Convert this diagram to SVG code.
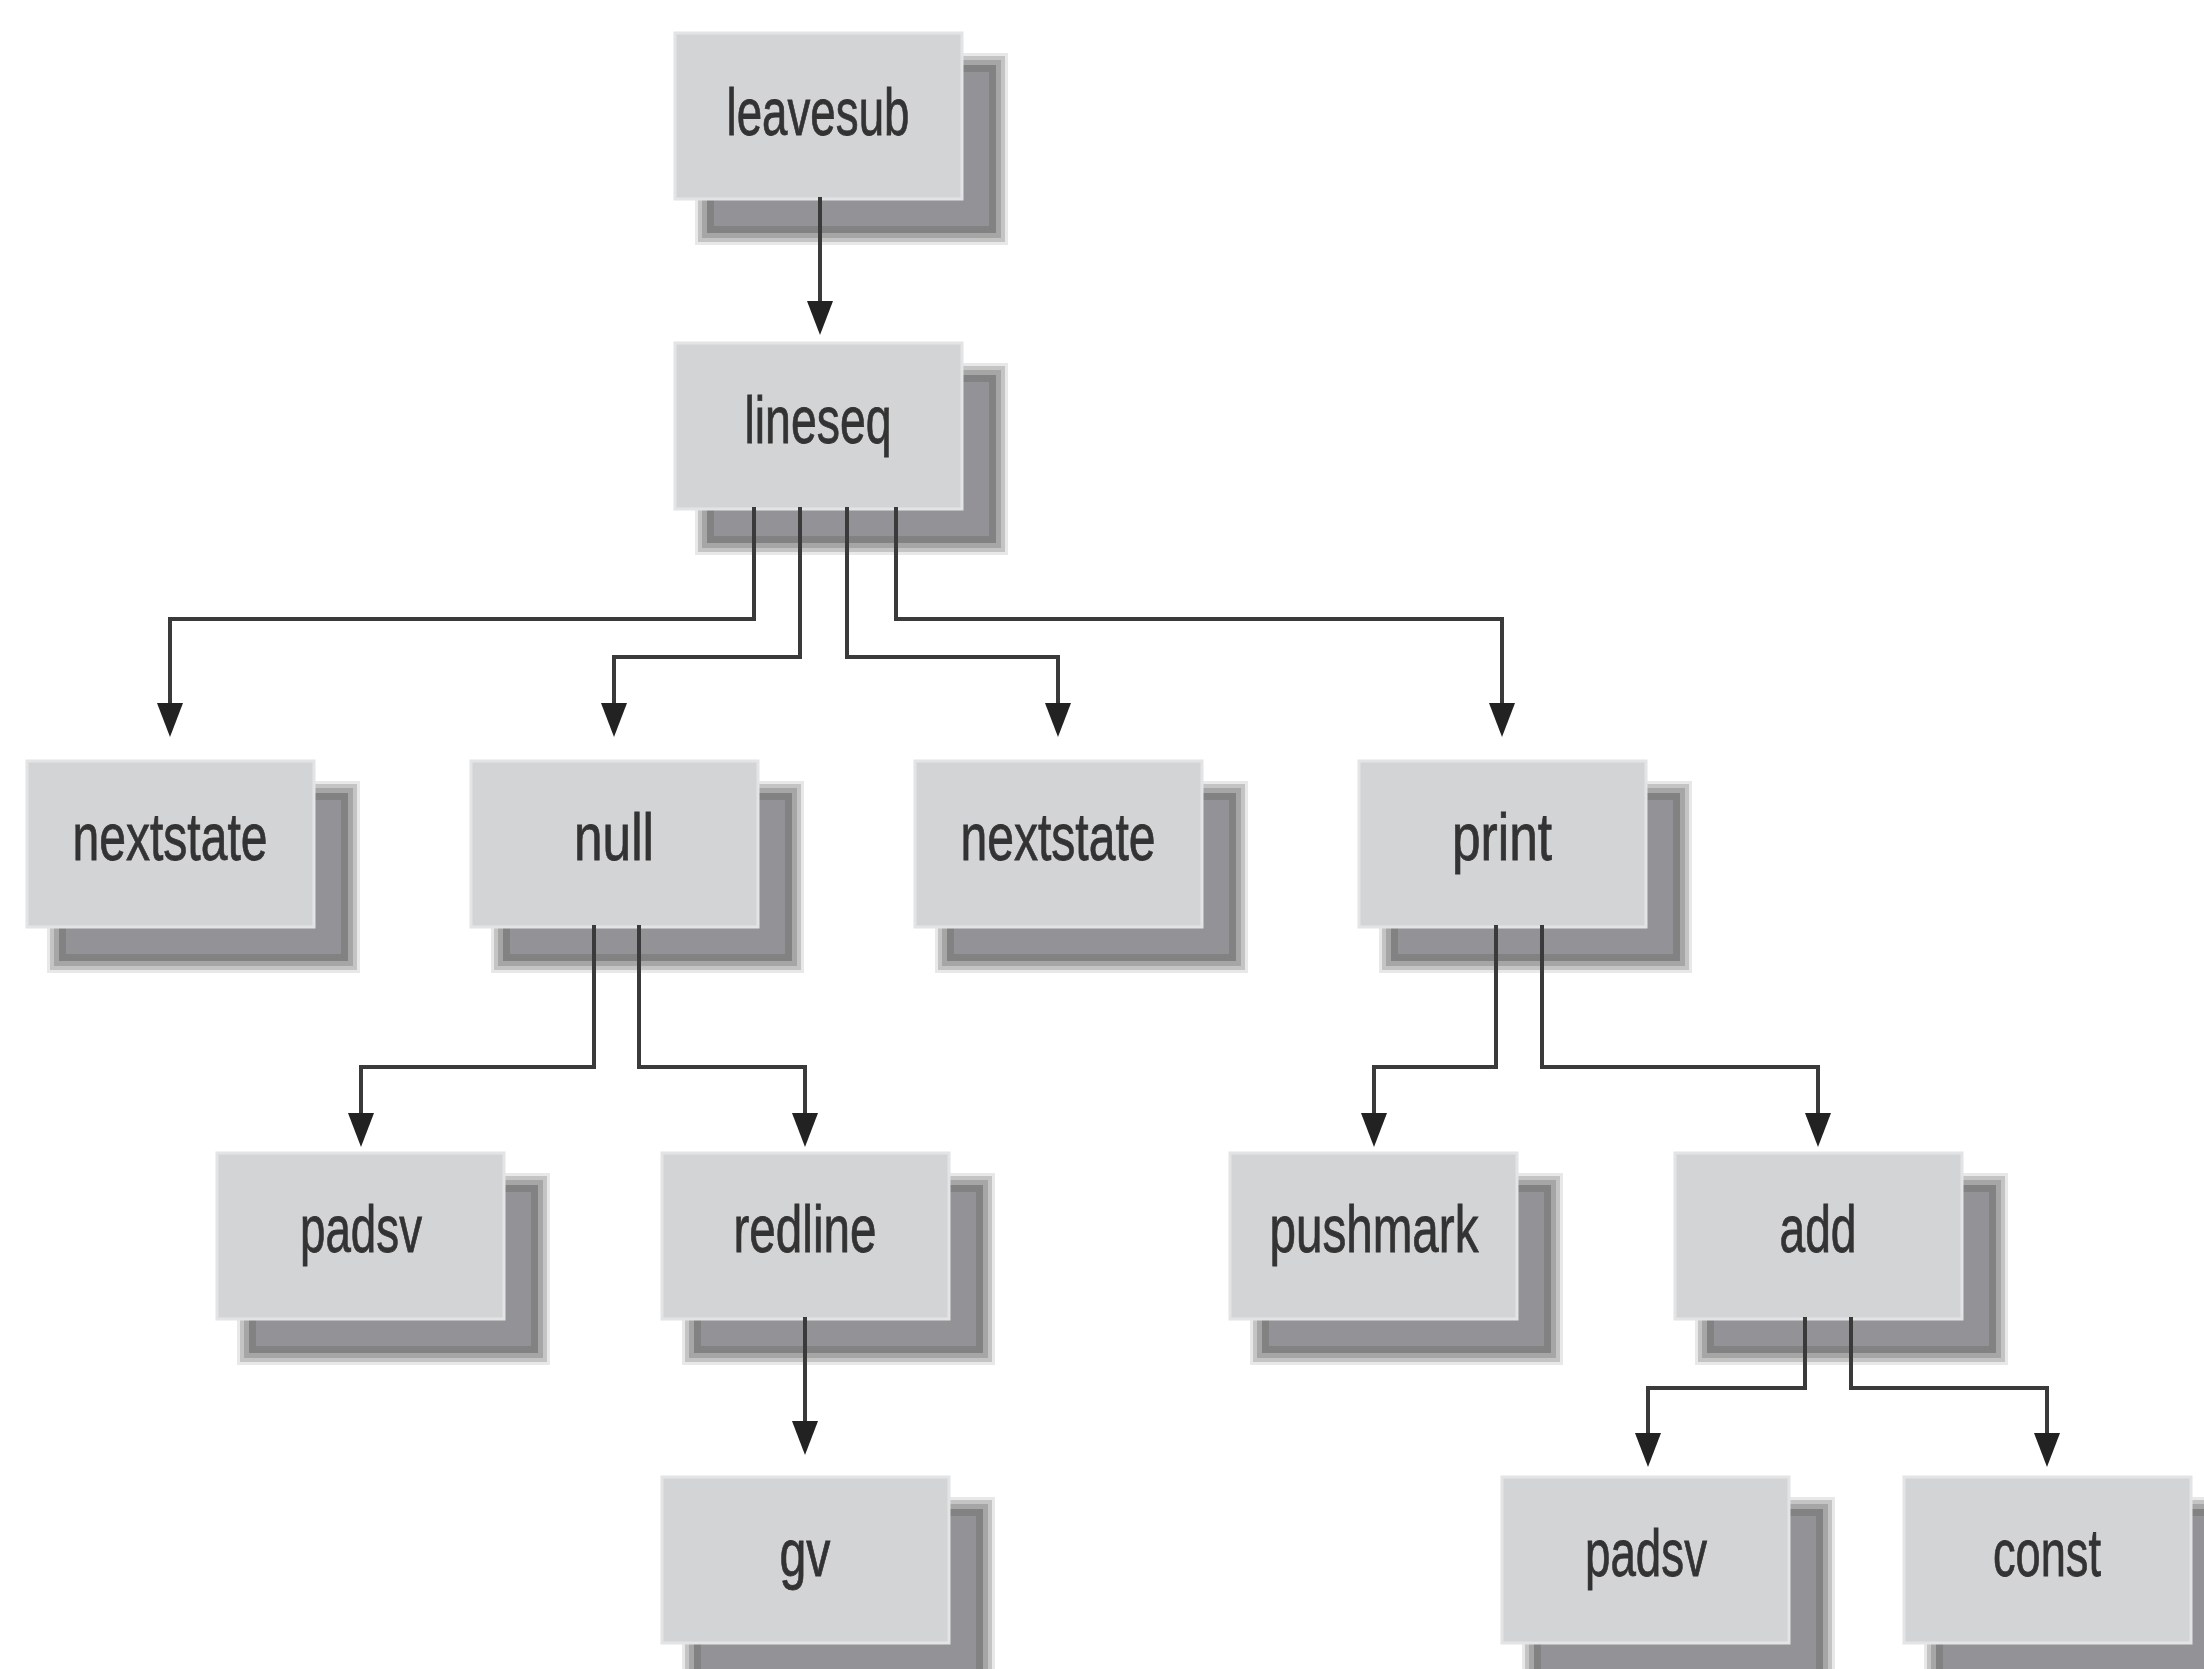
<svg xmlns="http://www.w3.org/2000/svg" xmlns:xlink="http://www.w3.org/1999/xlink" width="2204" height="1669" viewBox="0 0 2204 1669">
<style>
.box{fill:#d3d4d6;stroke:#e3e4e5;stroke-width:3}
.lbl{font-family:"Liberation Sans Narrow","Liberation Sans",Arial,sans-serif;font-size:66px;fill:#333333;stroke:#333333;stroke-width:0.8;text-anchor:middle}
.conn{fill:none;stroke:#3a3a3a;stroke-width:4;stroke-linejoin:miter;stroke-linecap:square}
</style>
<defs>
<symbol id="shadow" overflow="visible">
<rect x="0" y="0" width="313" height="192" fill="#e8e8e8"/>
<rect x="3" y="3" width="307" height="186" fill="#c4c4c4"/>
<rect x="7" y="7" width="299" height="178" fill="#a6a6a6"/>
<rect x="12" y="12" width="289" height="168" fill="#828282"/>
<rect x="19" y="19" width="275" height="154" fill="#939397"/>
</symbol>
<marker id="arr" markerUnits="userSpaceOnUse" markerWidth="36" markerHeight="28" refX="4" refY="13" orient="auto" viewBox="0 0 36 28">
<path d="M0,0 L34,13 L0,26 Z" fill="#222"/>
</marker>
</defs>
<rect width="2204" height="1669" fill="#ffffff"/>

<g id="node-leavesub"><use xlink:href="#shadow" x="695" y="53"/><rect class="box" x="675" y="33" width="287" height="166"/><text class="lbl" x="818" y="135" textLength="183" lengthAdjust="spacingAndGlyphs">leavesub</text></g>
<g id="node-lineseq"><use xlink:href="#shadow" x="695" y="363"/><rect class="box" x="675" y="343" width="287" height="166"/><text class="lbl" x="818" y="443" textLength="147" lengthAdjust="spacingAndGlyphs">lineseq</text></g>

<g id="node-nextstate1"><use xlink:href="#shadow" x="47" y="781"/><rect class="box" x="27" y="761" width="287" height="166"/><text class="lbl" x="170" y="860" textLength="195" lengthAdjust="spacingAndGlyphs">nextstate</text></g>
<g id="node-null"><use xlink:href="#shadow" x="491" y="781"/><rect class="box" x="471" y="761" width="287" height="166"/><text class="lbl" x="614" y="860" textLength="80" lengthAdjust="spacingAndGlyphs">null</text></g>
<g id="node-nextstate2"><use xlink:href="#shadow" x="935" y="781"/><rect class="box" x="915" y="761" width="287" height="166"/><text class="lbl" x="1058" y="860" textLength="195" lengthAdjust="spacingAndGlyphs">nextstate</text></g>
<g id="node-print"><use xlink:href="#shadow" x="1379" y="781"/><rect class="box" x="1359" y="761" width="287" height="166"/><text class="lbl" x="1502" y="860" textLength="100" lengthAdjust="spacingAndGlyphs">print</text></g>

<g id="node-padsv1"><use xlink:href="#shadow" x="237" y="1173"/><rect class="box" x="217" y="1153" width="287" height="166"/><text class="lbl" x="361" y="1252" textLength="122" lengthAdjust="spacingAndGlyphs">padsv</text></g>
<g id="node-redline"><use xlink:href="#shadow" x="682" y="1173"/><rect class="box" x="662" y="1153" width="287" height="166"/><text class="lbl" x="805" y="1252" textLength="143" lengthAdjust="spacingAndGlyphs">redline</text></g>
<g id="node-pushmark"><use xlink:href="#shadow" x="1250" y="1173"/><rect class="box" x="1230" y="1153" width="287" height="166"/><text class="lbl" x="1374" y="1252" textLength="209" lengthAdjust="spacingAndGlyphs">pushmark</text></g>
<g id="node-add"><use xlink:href="#shadow" x="1695" y="1173"/><rect class="box" x="1675" y="1153" width="287" height="166"/><text class="lbl" x="1818" y="1252" textLength="77" lengthAdjust="spacingAndGlyphs">add</text></g>

<g id="node-gv"><use xlink:href="#shadow" x="682" y="1497"/><rect class="box" x="662" y="1477" width="287" height="166"/><text class="lbl" x="805" y="1576" textLength="51" lengthAdjust="spacingAndGlyphs">gv</text></g>
<g id="node-padsv2"><use xlink:href="#shadow" x="1522" y="1497"/><rect class="box" x="1502" y="1477" width="287" height="166"/><text class="lbl" x="1646" y="1576" textLength="122" lengthAdjust="spacingAndGlyphs">padsv</text></g>
<g id="node-const"><use xlink:href="#shadow" x="1924" y="1497"/><rect class="box" x="1904" y="1477" width="287" height="166"/><text class="lbl" x="2047" y="1576" textLength="108" lengthAdjust="spacingAndGlyphs">const</text></g>

<g id="connectors">
<path class="conn" marker-end="url(#arr)" d="M820,199 V305"/>
<path class="conn" marker-end="url(#arr)" d="M754,509 V619 H170 V707"/>
<path class="conn" marker-end="url(#arr)" d="M800,509 V657 H614 V707"/>
<path class="conn" marker-end="url(#arr)" d="M847,509 V657 H1058 V707"/>
<path class="conn" marker-end="url(#arr)" d="M896,509 V619 H1502 V707"/>
<path class="conn" marker-end="url(#arr)" d="M594,927 V1067 H361 V1117"/>
<path class="conn" marker-end="url(#arr)" d="M639,927 V1067 H805 V1117"/>
<path class="conn" marker-end="url(#arr)" d="M1496,927 V1067 H1374 V1117"/>
<path class="conn" marker-end="url(#arr)" d="M1542,927 V1067 H1818 V1117"/>
<path class="conn" marker-end="url(#arr)" d="M805,1319 V1425"/>
<path class="conn" marker-end="url(#arr)" d="M1805,1319 V1388 H1648 V1437"/>
<path class="conn" marker-end="url(#arr)" d="M1851,1319 V1388 H2047 V1437"/>
</g>
</svg>
